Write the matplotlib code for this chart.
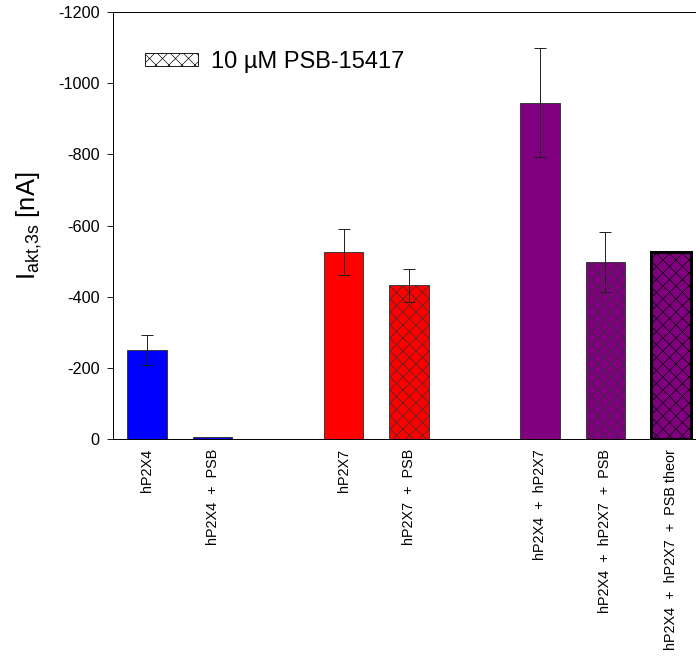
import numpy as np
import matplotlib
matplotlib.use("Agg")
import matplotlib.pyplot as plt
from matplotlib.patches import Patch

plt.rcParams['font.family'] = ['Liberation Sans', 'DejaVu Sans']
plt.rcParams['mathtext.fontset'] = 'custom'
plt.rcParams['mathtext.rm'] = 'Liberation Sans'
plt.rcParams['mathtext.it'] = 'Liberation Sans'
plt.rcParams['hatch.linewidth'] = 0.6
plt.rcParams['hatch.color'] = 'black'

# Daten (Strom nach 3 s, nA)
labels = ["hP2X4", "hP2X4  +  PSB", "hP2X7", "hP2X7  +  PSB",
          "hP2X4  +  hP2X7", "hP2X4  +  hP2X7  +  PSB", "hP2X4  +  hP2X7  +  PSB theor"]
positions = [0, 1, 3, 4, 6, 7, 8]
values = [-250, -7, -525, -432, -945, -497, -525]
errors = [43, 0, 65, 47, 153, 85, 0]
colors = ["#0000ff", "#0000ff", "#ff0000", "#ff0000", "#800080", "#800080", "#800080"]
hatched = [False, True, False, True, False, True, True]

DPI = 78
fig = plt.figure(figsize=(696 / DPI, 656 / DPI), dpi=DPI)
ax = fig.add_axes([113 / 696, 1 - 439 / 656, 592 / 696, 427 / 656])

for x, v, e, c, h, lab in zip(positions, values, errors, colors, hatched, labels):
    theor = lab.endswith("theor")
    ax.bar(x, v, width=0.6, color=c, edgecolor="black" if theor else "#303030",
           linewidth=2.8 if theor else 0.8, hatch="xx" if h else None, zorder=2)
    if e > 0:
        ax.errorbar(x, v, yerr=e, fmt="none", ecolor="#202020", elinewidth=0.9,
                    capsize=5.5, capthick=0.9, zorder=3)

ax.set_xlim(-0.52, 8.52)
ax.set_ylim(0, -1200)
ax.set_yticks(np.arange(0, -1201, -200))
ax.set_yticklabels([str(t) for t in np.arange(0, -1201, -200)])
ax.set_xticks(positions)
ax.set_xticklabels(labels, rotation=90, fontsize=13.3)
ax.tick_params(axis="x", length=0, pad=9)
ax.tick_params(axis="y", direction="out", length=5.5, width=0.8, labelsize=15, pad=7)

for s in ["left", "top", "bottom", "right"]:
    ax.spines[s].set_linewidth(0.9)

ax.set_ylabel(r"I$_{\mathrm{akt{,}3s}}$ [nA]", fontsize=23.5)
ax.yaxis.set_label_coords(-0.117, 0.5)

handle = Patch(facecolor="white", edgecolor="black", hatch="xx", linewidth=0.8)
ax.legend([handle], ["10 µM PSB-15417"], loc="center left",
          bbox_to_anchor=(0.054, 0.883), frameon=False, fontsize=21.8,
          handlelength=2.25, handleheight=0.5, handletextpad=0.55, borderpad=0,
          borderaxespad=0)

fig.savefig("out.png", dpi=DPI)
